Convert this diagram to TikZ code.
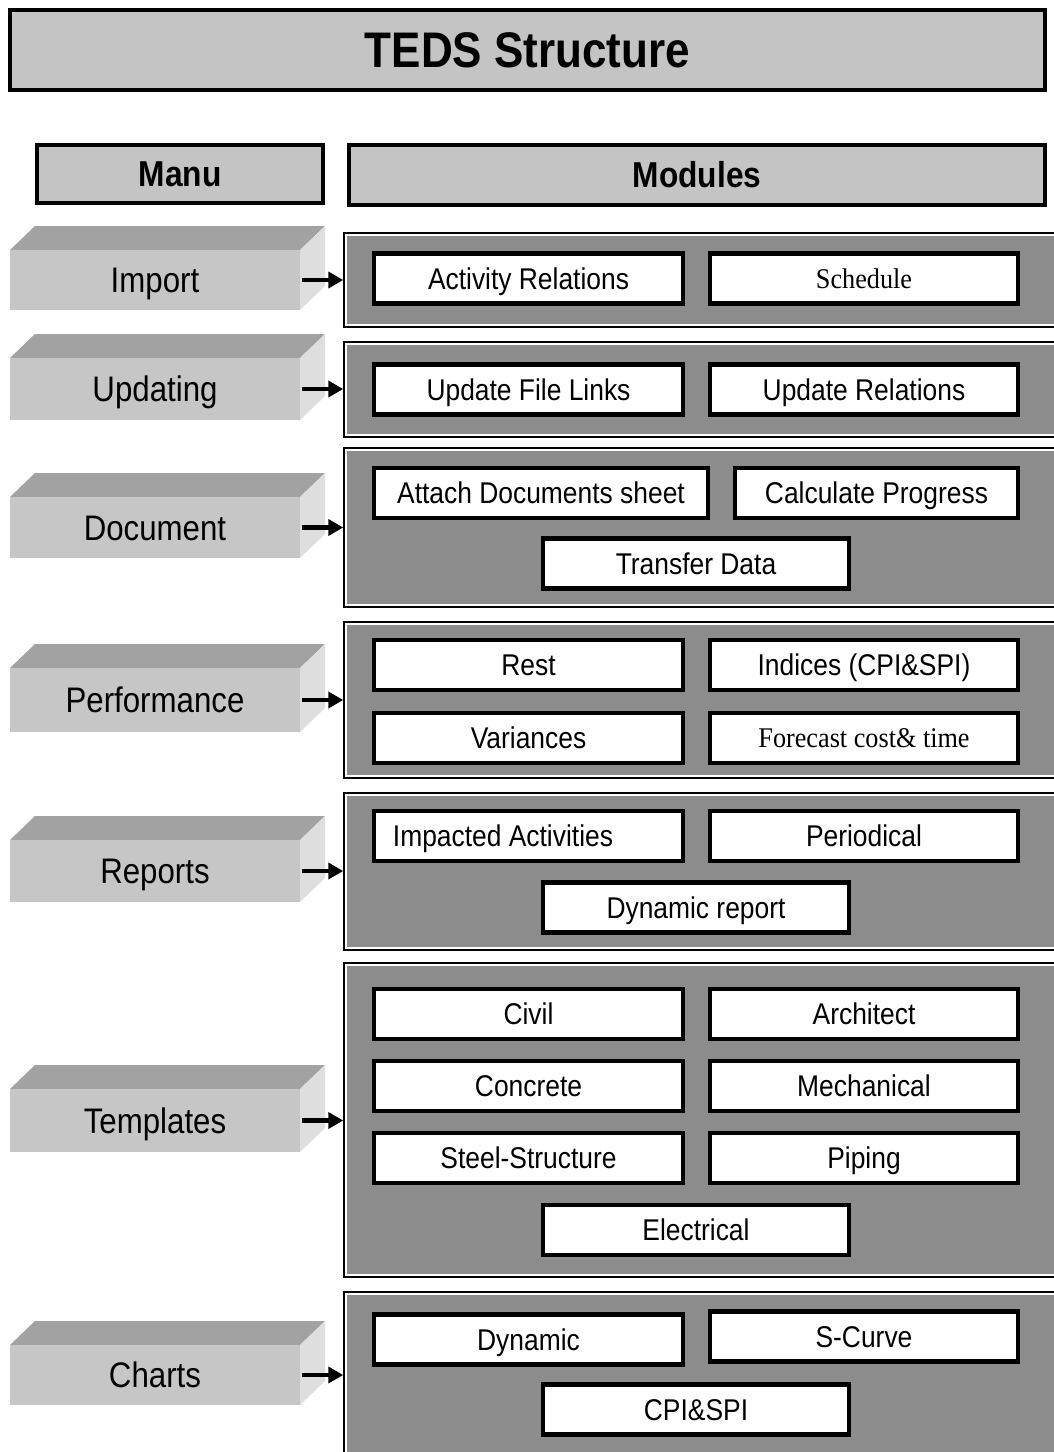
\documentclass[tikz,border=0pt]{standalone}
\usepackage{fontspec}
\setmainfont{Liberation Sans}[FakeStretch=0.88]
\newfontfamily\tmsfont{Liberation Serif}[FakeStretch=0.92]
\usetikzlibrary{arrows.meta}

\definecolor{headgray}{HTML}{C4C4C4}
\definecolor{panelgray}{HTML}{8C8C8C}
\definecolor{frontgray}{HTML}{C6C6C6}
\definecolor{topgray}{HTML}{A2A2A2}
\definecolor{sidegray}{HTML}{DEDEDE}

\tikzset{
  headbox/.style={draw=black, line width=4pt, fill=headgray, inner sep=0pt,
    font=\bfseries\fontsize{36}{40}\selectfont},
  panel/.style={draw=black, line width=1.5pt, fill=white, inner sep=0pt,
    path picture={\fill[panelgray]
      ([shift={(3pt,3pt)}]path picture bounding box.south west) rectangle
      ([shift={(-3pt,-3pt)}]path picture bounding box.north east);}},
  modbox/.style={draw=black, line width=4.5pt, fill=white, inner sep=0pt,
    minimum height=50pt, text height=21.5pt, text depth=0pt,
    font=\fontsize{30}{34}\selectfont},
  serifbox/.style={modbox, text height=19.5pt, font=\tmsfont\fontsize{28.5}{32}\selectfont},
  boxtext/.style={inner sep=0pt, text height=21.5pt, text depth=0pt,
    font=\fontsize{30}{34}\selectfont},
  menufront/.style={fill=frontgray, inner sep=0pt, minimum width=290pt,
    text height=25pt, text depth=0pt,
    font=\fontsize{35.5}{40}\selectfont},
  menutop/.style={fill=topgray},
  menuside/.style={fill=sidegray},
  arr/.style={line width=4.5pt, -{Triangle[length=15pt,width=16pt]}},
}

% a menu block: front face, top face and right face; #1 name, #2 top y, #3 bottom y, #4 label
\newcommand{\menublock}[4]{%
  \fill[menutop] (10,#2) -- (35,#2-24) -- (325,#2-24) -- (300,#2) -- cycle;
  \fill[menuside] (300,#2) -- (325,#2-24) -- (325,#3-24) -- (300,#3) -- cycle;
  \node[menufront, minimum height=#3-#2] (#1) at (155,{(#2+#3)/2}) {#4};
}

\begin{document}
\begin{tikzpicture}[x=1pt, y=-1pt]
\useasboundingbox (0,0) rectangle (1054,1452);
\fill[white] (0,0) rectangle (1054,1452);

% headings
\node[headbox, minimum width=1035pt, minimum height=80pt,
  font=\bfseries\fontsize{50}{56}\selectfont] (title) at (527.5,50) {TEDS Structure};
\node[headbox, minimum width=286pt, minimum height=58pt] (manu) at (180,174) {Manu};
\node[headbox, minimum width=696pt, minimum height=60pt] (modules) at (697,175) {Modules};

% menu blocks
\menublock{mImport}{250}{310}{Import}
\menublock{mUpdating}{358}{420}{Updating}
\menublock{mDocument}{497}{558}{Document}
\menublock{mPerformance}{668}{732}{Performance}
\menublock{mReports}{840}{902}{Reports}
\menublock{mTemplates}{1089}{1152}{Templates}
\menublock{mCharts}{1345}{1405}{Charts}

% module panels
\node[panel, minimum width=718pt, minimum height=94pt] (pImport) at (703,280) {};
\node[panel, minimum width=718pt, minimum height=95pt] (pUpdating) at (703,389.5) {};
\node[panel, minimum width=718pt, minimum height=159pt] (pDocument) at (703,527.5) {};
\node[panel, minimum width=718pt, minimum height=156pt] (pPerformance) at (703,700) {};
\node[panel, minimum width=718pt, minimum height=157pt] (pReports) at (703,871.5) {};
\node[panel, minimum width=718pt, minimum height=314pt] (pTemplates) at (703,1120) {};
\node[panel, minimum width=718pt, minimum height=173pt] (pCharts) at (703,1378.5) {};

% arrows from menus to their panels
\foreach \m in {Import,Updating,Document,Performance,Reports,Templates,Charts}
  \draw[arr] ([xshift=2pt]m\m.east) -- (m\m.east -| p\m.west);

% Import
\node[modbox, minimum width=309pt] (actrel) at (528.5,278.5) {Activity Relations};
\node[serifbox, minimum width=308pt] (sched) at (864,278.5) {Schedule};
% Updating
\node[modbox, minimum width=309pt] (updlinks) at (528.5,389.5) {Update File Links};
\node[modbox, minimum width=308pt] (updrel) at (864,389.5) {Update Relations};
% Document
\node[modbox, minimum width=334pt] (attach) at (541,493) {Attach Documents sheet};
\node[modbox, minimum width=283pt] (calc) at (876.5,493) {Calculate Progress};
\node[modbox, minimum width=306pt] (transfer) at (696,563.5) {Transfer Data};
% Performance
\node[modbox, minimum width=309pt] (rest) at (528.5,665) {Rest};
\node[modbox, minimum width=308pt] (indices) at (864,665) {Indices (CPI\&SPI)};
\node[modbox, minimum width=309pt] (variances) at (528.5,738) {Variances};
\node[serifbox, minimum width=308pt] (forecast) at (864,738) {Forecast cost\& time};
% Reports
\node[modbox, minimum width=309pt] (impacted) at (528.5,836) {};
\node[boxtext, anchor=west] (impactedtext) at ([xshift=21pt]impacted.west) {Impacted Activities};
\node[modbox, minimum width=308pt] (periodical) at (864,836) {Periodical};
\node[modbox, minimum width=306pt] (dynrep) at (696,907.5) {Dynamic report};
% Templates
\node[modbox, minimum width=309pt] (civil) at (528.5,1014) {Civil};
\node[modbox, minimum width=308pt] (architect) at (864,1014) {Architect};
\node[modbox, minimum width=309pt] (concrete) at (528.5,1086) {Concrete};
\node[modbox, minimum width=308pt] (mechanical) at (864,1086) {Mechanical};
\node[modbox, minimum width=309pt] (steel) at (528.5,1158) {Steel-Structure};
\node[modbox, minimum width=308pt] (piping) at (864,1158) {Piping};
\node[modbox, minimum width=306pt] (electrical) at (696,1230) {Electrical};
% Charts
\node[modbox, minimum width=309pt] (dynamic) at (528.5,1339.5) {Dynamic};
\node[modbox, minimum width=308pt] (scurve) at (864,1336.5) {S-Curve};
\node[modbox, minimum width=306pt] (cpispi) at (696,1409.5) {CPI\&SPI};
\end{tikzpicture}
\end{document}
